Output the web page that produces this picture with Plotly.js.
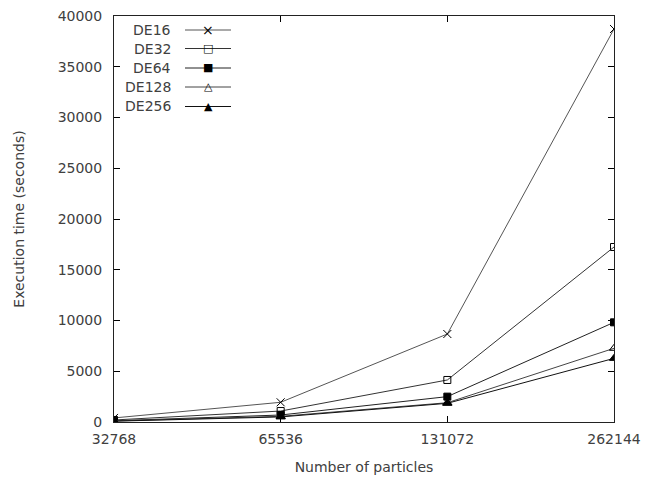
<!DOCTYPE html>
<html>
<head>
<meta charset="utf-8">
<script src="https://cdn.plot.ly/plotly-3.0.1.min.js"></script>
<style>html,body{margin:0;padding:0;background:#fff;}#chart{width:653px;height:479px;}</style>
</head>
<body>
<div id="chart"></div>
<script>
// Data
const particles = [32768, 65536, 131072, 262144];
const tickLabels = ["32768", "65536", "131072", "262144"];
const seriesNames = ["DE16", "DE32", "DE64", "DE128", "DE256"];
const de16 = [400, 1940, 8670, 38720];
const de32 = [200, 1080, 4140, 17240];
const de64 = [120, 690, 2500, 9820];
const de128 = [100, 560, 1900, 7260];
const de256 = [80, 500, 1840, 6270];
const seriesValues = [de16, de32, de64, de128, de256];
const yTicks = [0, 5000, 10000, 15000, 20000, 25000, 30000, 35000, 40000];

// styles
const symbols = ["x-thin-open", "square-open", "square", "triangle-up-open", "triangle-up"];
const sizes = [8, 7, 7, 8, 8];
const lineColors = ["#555", "#333", "#222", "#444", "#111"];
const glyphs = ["\u00D7", "\u25A1", "\u25A0", "\u25B3", "\u25B2"];
const glyphSizes = [14, 11, 11, 11, 11];
const font = {family: "DejaVu Sans", size: 14, color: "#404040"};

const traces = seriesNames.map((n, i) => ({
  x: particles, y: seriesValues[i], name: n, type: "scatter", mode: "lines+markers",
  line: {color: lineColors[i], width: 1},
  marker: {symbol: symbols[i], size: sizes[i], color: "#000", line: {color: "#000", width: 1}},
  showlegend: false
}));

// custom gnuplot-style key: text right-aligned, then line sample with marker
const L = 114, R = 614, T = 16, B = 422;
const px = v => (v - L) / (R - L);
const py = v => (B - v) / (B - T);
const rowY = [30, 48.5, 68, 87, 106.5];
const shapes = [];
const annotations = [];
seriesNames.forEach((n, i) => {
  shapes.push({type: "line", xref: "paper", yref: "paper", x0: px(185), x1: px(231), y0: py(rowY[i]), y1: py(rowY[i]),
    line: {color: lineColors[i], width: 1}});
  annotations.push({xref: "paper", yref: "paper", x: px(173), y: py(rowY[i]), xanchor: "right", yanchor: "middle",
    text: n, showarrow: false, font: font});
  annotations.push({xref: "paper", yref: "paper", x: px(208), y: py(rowY[i]), xanchor: "center", yanchor: "middle",
    text: glyphs[i], showarrow: false, font: {family: "DejaVu Sans", size: glyphSizes[i], color: "#000"}});
});

const layout = {
  width: 653, height: 479,
  margin: {l: L, r: 653 - R, t: T, b: 479 - B},
  paper_bgcolor: "#fff", plot_bgcolor: "#fff",
  font: font,
  showlegend: false,
  xaxis: {
    type: "log",
    range: [Math.log10(particles[0]), Math.log10(particles[particles.length - 1])],
    tickvals: particles, ticktext: tickLabels,
    ticks: "inside", ticklen: 6, tickcolor: "#000", tickwidth: 1,
    showline: true, linecolor: "#222", linewidth: 1, mirror: "ticks",
    showgrid: false, zeroline: false,
    ticklabelstandoff: 4,
    title: {text: "Number of particles", font: font, standoff: 16}
  },
  yaxis: {
    range: [0, 40000], tickvals: yTicks, tickformat: "d",
    ticks: "inside", ticklen: 6, tickcolor: "#000", tickwidth: 1,
    showline: true, linecolor: "#222", linewidth: 1, mirror: "ticks",
    showgrid: false, zeroline: false,
    ticklabelstandoff: 8,
    title: {text: "Execution time (seconds)", font: font, standoff: 29}
  },
  shapes: shapes,
  annotations: annotations
};

Plotly.newPlot("chart", traces, layout, {displayModeBar: false, staticPlot: true});
</script>
</body>
</html>
